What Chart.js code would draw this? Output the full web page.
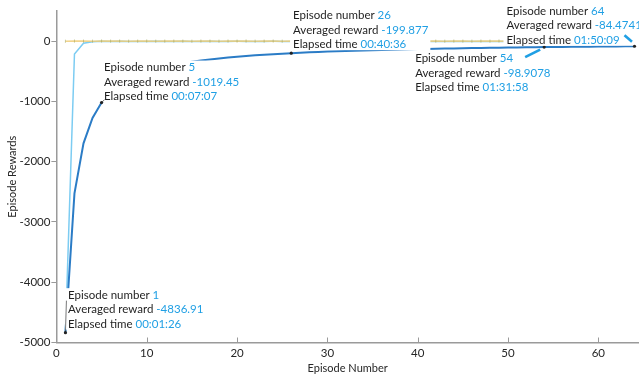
<!DOCTYPE html>
<html>
<head>
<meta charset="utf-8">
<script src="https://cdn.jsdelivr.net/npm/chart.js@4.4.1/dist/chart.umd.min.js"></script>
<style>
  html, body { margin: 0; padding: 0; background: #ffffff; overflow: hidden; }
  #wrap { width: 639px; height: 377px; position: relative; }
</style>
</head>
<body>
<div id="wrap"><canvas id="c" width="639" height="377"></canvas></div>
<script>
// Training run: 64 episodes
const episodes = [
  1, 2, 3, 4, 5, 6, 7, 8, 9, 10, 11, 12, 13, 14, 15, 16,
  17, 18, 19, 20, 21, 22, 23, 24, 25, 26, 27, 28, 29, 30, 31, 32,
  33, 34, 35, 36, 37, 38, 39, 40, 41, 42, 43, 44, 45, 46, 47, 48,
  49, 50, 51, 52, 53, 54, 55, 56, 57, 58, 59, 60, 61, 62, 63, 64
];

// Reward collected in each episode
const episodeReward = [
  -4836.91, -215, -35, -10, -0.34, -6.2, -3.9, -5.1, -4.4, -7.3, -3.2, -4.8, -5.6, -2.9, -4.1, -6.7,
  -3.5, -5.4, -4.0, -3.8, -6.1, -4.6, -5.0, -3.3, -4.9, -4.75, -5.8, -4.3, -6.0, -4.9, -5.5, -3.7,
  -5.2, -6.4, -4.6, -5.0, -4.4, -5.9, -5.3, -4.8, -6.2, -4.1, -5.6, -5.1, -4.5, -5.7, -4.9, -6.1,
  -4.2, -5.4, -5.0, -4.7, -5.8, -5.12, -6.9, -5.8, -7.2, -6.1, -6.6, -5.9, -7.0, -6.3, -6.8, -6.62
];

// Averaged reward after each episode
const averageReward = [
  -4836.91, -2525.96, -1695.64, -1274.23, -1019.45, -850.58, -729.62, -639.06, -568.54, -512.42, -466.12, -427.68, -395.21, -367.19, -342.98, -321.97,
  -303.23, -286.69, -271.81, -258.41, -246.39, -235.40, -225.38, -216.13, -207.68, -199.877, -192.69, -185.96, -179.76, -173.93, -168.49, -163.34,
  -158.55, -154.08, -149.81, -145.78, -141.96, -138.38, -134.97, -131.72, -128.65, -125.69, -122.90, -120.22, -117.65, -115.21, -112.87, -110.64,
  -108.47, -106.41, -104.42, -102.50, -100.68, -98.9078, -97.23, -95.60, -94.05, -92.53, -91.08, -89.66, -88.30, -86.98, -85.71, -84.4741
];

// Critic estimate of the initial return (Q0)
const episodeQ0 = [
  -2, 1, 0, -1, 2, 0, 1, -1, 0, 2, -1, 0, 1, 0, -2, 1,
  0, -1, 1, 0, 2, -1, 0, 1, -1, 0, 1, 0, -1, 2, 0, -1,
  1, 0, -2, 1, 0, 1, -1, 0, 2, 0, -1, 1, 0, -1, 1, 0,
  2, -1, 0, 1, 0, -1, 1, 0, -2, 1, 0, 1, -1, 0, 1, 0
];

// Axis ticks
const xTicks = [0, 10, 20, 30, 40, 50, 60];
const yTicks = [-5000, -4000, -3000, -2000, -1000, 0];

// Highlighted episodes
const calloutEpisodes = [1, 5, 26, 54, 64];
const calloutTimes = ['00:01:26', '00:07:07', '00:40:36', '01:31:58', '01:50:09'];

// Where each callout block sits relative to its point (pixels)
const calloutLayout = [
  { dx: 2.6,  dy: -37.5, leader: 'thin' },
  { dx: 2.4,  dy: -35,   leader: 'stub' },
  { dx: 1.8,  dy: -37.5, leader: 'none' },
  { dx: -129, dy: 11.5,  leader: 'below' },
  { dx: -128, dy: -35,   leader: 'above' }
];

const FONT = 'Lato, "Open Sans", sans-serif';
const LABEL_COLOR = '#1f1f1f';
const VALUE_COLOR = '#1f9fe4';
const AXIS_COLOR = '#9a9a9a';

const toPoints = (ys) => episodes.map((e, i) => ({ x: e, y: ys[i] }));

const calloutPlugin = {
  id: 'callouts',
  afterDatasetsDraw(chart) {
    const { ctx, scales: { x, y } } = chart;
    ctx.save();
    ctx.font = '11.5px ' + FONT;
    ctx.textBaseline = 'middle';
    const lineGap = 14.5;
    calloutEpisodes.forEach((ep, k) => {
      const idx = episodes.indexOf(ep);
      const val = averageReward[idx];
      const px = x.getPixelForValue(ep);
      const py = y.getPixelForValue(val);
      const lay = calloutLayout[k];
      const rows = [
        ['Episode number ', String(ep)],
        ['Averaged reward ', String(val)],
        ['Elapsed time ', calloutTimes[k]]
      ];
      const left = px + lay.dx;
      const top = py + lay.dy;
      let maxW = 0;
      rows.forEach(r => {
        const w = ctx.measureText(r[0]).width + ctx.measureText(r[1]).width;
        if (w > maxW) maxW = w;
      });
      // white backing of the text block
      ctx.fillStyle = '#ffffff';
      ctx.fillRect(left - 3, top - 7, maxW + 5, lineGap * 2 + 12.5);
      rows.forEach((r, j) => {
        const ty = top + j * lineGap;
        ctx.fillStyle = LABEL_COLOR;
        ctx.fillText(r[0], left, ty);
        const w0 = ctx.measureText(r[0]).width;
        ctx.fillStyle = VALUE_COLOR;
        ctx.fillText(r[1], left + w0, ty);
      });
      // leader from the block to the point
      ctx.lineCap = 'butt';
      if (lay.leader === 'thin') {
        ctx.strokeStyle = '#555555';
        ctx.lineWidth = 0.8;
        ctx.beginPath();
        ctx.moveTo(px, py);
        ctx.lineTo(px + 1, py - 32);
        ctx.stroke();
      } else if (lay.leader === 'stub') {
        ctx.strokeStyle = '#555555';
        ctx.lineWidth = 0.8;
        ctx.beginPath();
        ctx.moveTo(px, py);
        ctx.lineTo(px + 3, py - 3);
        ctx.stroke();
      } else if (lay.leader === 'below') {
        ctx.strokeStyle = VALUE_COLOR;
        ctx.lineWidth = 2.6;
        ctx.beginPath();
        ctx.moveTo(px - 19, py + 10);
        ctx.lineTo(px - 4, py + 2.5);
        ctx.stroke();
      } else if (lay.leader === 'above') {
        ctx.strokeStyle = VALUE_COLOR;
        ctx.lineWidth = 2.6;
        ctx.beginPath();
        ctx.moveTo(px - 10, py - 11);
        ctx.lineTo(px - 2.5, py - 4.5);
        ctx.stroke();
      }
      // point marker
      ctx.fillStyle = '#222222';
      ctx.beginPath();
      ctx.arc(px, py, 1.6, 0, Math.PI * 2);
      ctx.fill();
    });
    ctx.restore();
  }
};

// inward tick marks on the episode axis
const xTickPlugin = {
  id: 'xInwardTicks',
  afterDraw(chart) {
    const { ctx, scales: { x }, chartArea } = chart;
    ctx.save();
    ctx.strokeStyle = AXIS_COLOR;
    ctx.lineWidth = 1;
    xTicks.forEach(v => {
      const px = Math.round(x.getPixelForValue(v)) + 0.5;
      ctx.beginPath();
      ctx.moveTo(px, chartArea.bottom);
      ctx.lineTo(px, chartArea.bottom - 5);
      ctx.stroke();
    });
    ctx.restore();
  }
};

new Chart(document.getElementById('c'), {
  type: 'line',
  data: {
    datasets: [
      {
        label: 'Episode Reward',
        data: toPoints(episodeReward),
        borderColor: '#7cccf2',
        borderWidth: 1.5,
        pointRadius: 0,
        tension: 0,
        order: 3
      },
      {
        label: 'Average Reward',
        data: toPoints(averageReward),
        borderColor: '#2b7cc6',
        borderWidth: 2,
        pointRadius: 0,
        tension: 0,
        order: 2
      },
      {
        label: 'Episode Q0',
        data: toPoints(episodeQ0),
        borderColor: 'rgba(238, 204, 120, 0.85)',
        borderWidth: 1.6,
        pointStyle: 'line',
        rotation: 90,
        pointRadius: 1.6,
        pointBorderColor: 'rgba(160, 165, 95, 0.55)',
        pointBorderWidth: 1,
        tension: 0,
        order: 1
      }
    ]
  },
  options: {
    responsive: false,
    animation: false,
    events: [],
    layout: { autoPadding: false, padding: { top: 11, left: 0, right: 0, bottom: 0 } },
    plugins: { legend: { display: false }, tooltip: { enabled: false } },
    scales: {
      x: {
        type: 'linear',
        min: 0,
        max: 64.5,
        afterBuildTicks: (s) => { s.ticks = xTicks.map(v => ({ value: v })); },
        afterFit: (s) => { s.height = 34.5; s.paddingLeft = 0; s.paddingRight = 0; },
        grid: { display: false, drawTicks: false },
        border: { display: true, color: AXIS_COLOR, width: 1.5 },
        ticks: {
          padding: 4,
          color: '#262626',
          font: { family: FONT, size: 11.5 },
          maxRotation: 0,
          callback: (v) => String(v)
        },
        title: {
          display: true,
          text: 'Episode Number',
          color: '#262626',
          font: { family: FONT, size: 11 },
          padding: { top: 0, bottom: 2.4 }
        }
      },
      y: {
        type: 'linear',
        min: -5000,
        max: 500,
        afterBuildTicks: (s) => { s.ticks = yTicks.map(v => ({ value: v })); },
        afterFit: (s) => { s.width = 56.4; s.paddingTop = 0; s.paddingBottom = 0; },
        grid: { display: true, drawOnChartArea: false, drawTicks: true, tickLength: 5, color: AXIS_COLOR, lineWidth: 1 },
        border: { display: true, color: AXIS_COLOR, width: 1.5 },
        ticks: {
          padding: 1,
          color: '#262626',
          font: { family: FONT, size: 11.5 },
          callback: (v) => String(v)
        },
        title: {
          display: true,
          text: 'Episode Rewards',
          color: '#262626',
          font: { family: FONT, size: 11 },
          padding: { top: 5.4, bottom: 0 }
        }
      }
    }
  },
  plugins: [calloutPlugin, xTickPlugin]
});
</script>
</body>
</html>
